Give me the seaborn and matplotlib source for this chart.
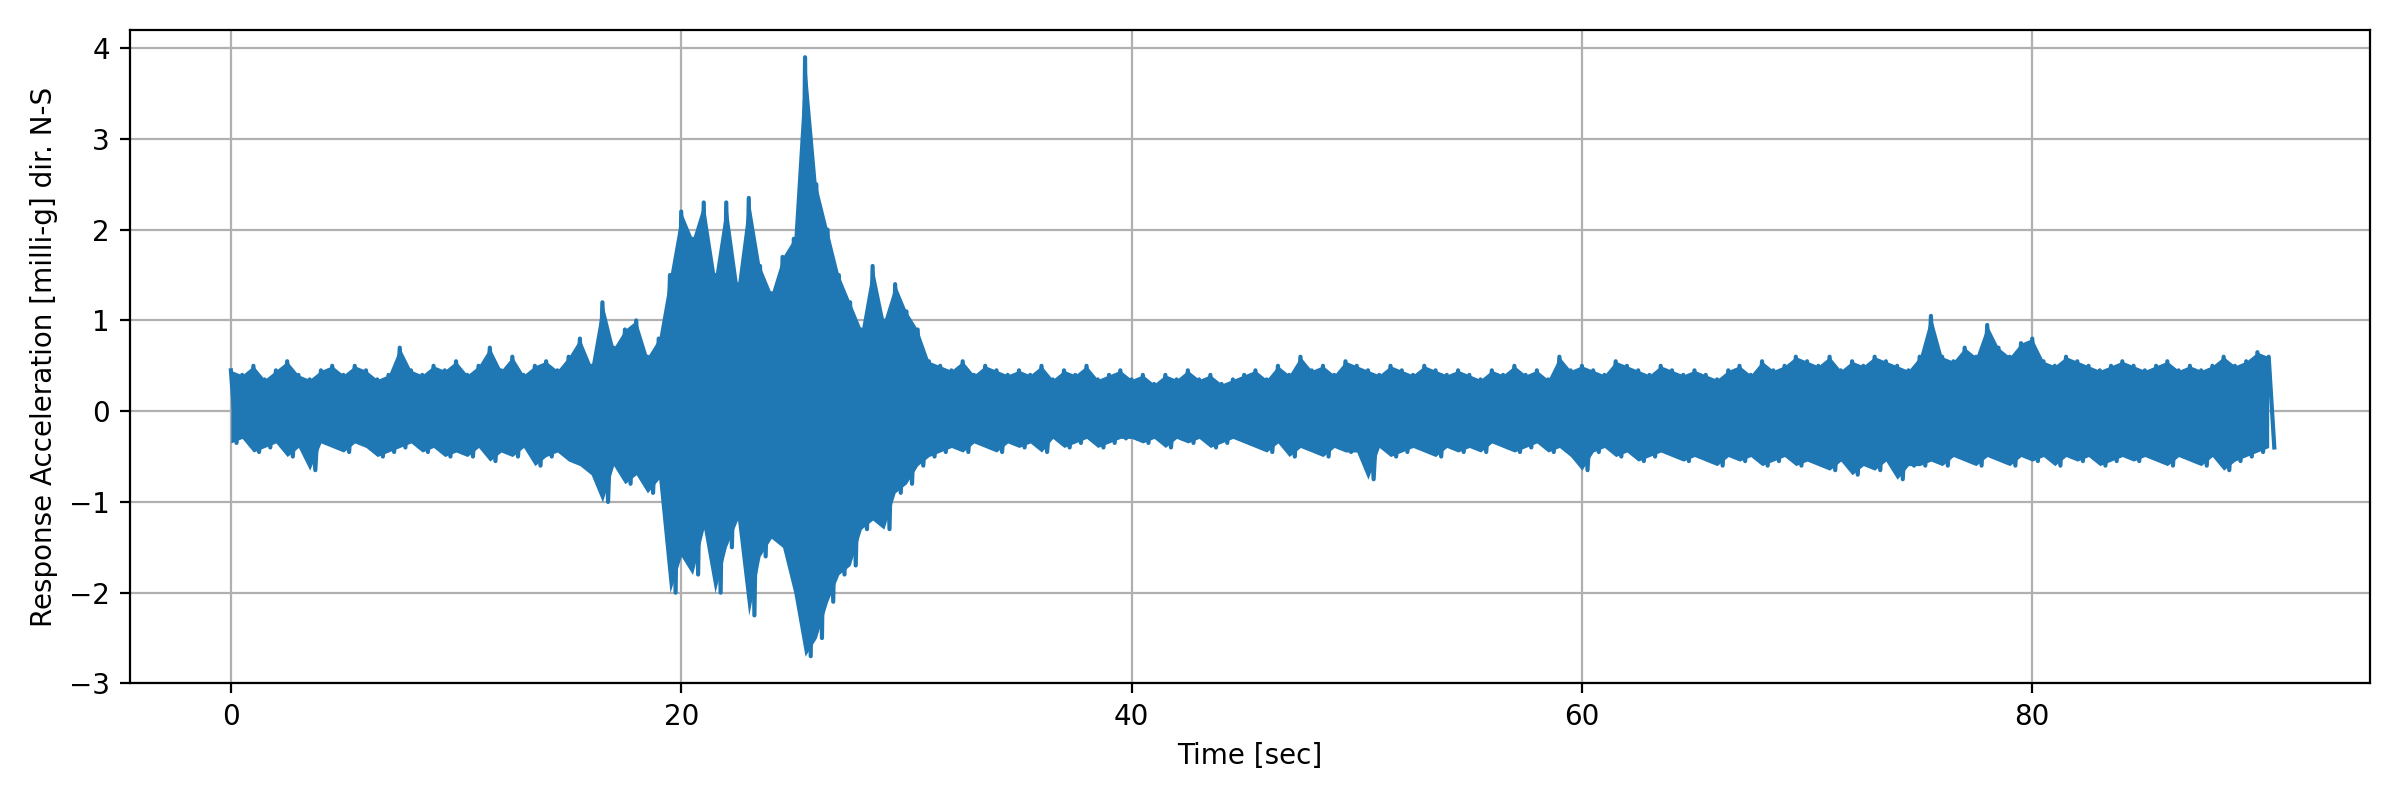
import numpy as np
import pandas as pd
import matplotlib
matplotlib.use("Agg")
import matplotlib.pyplot as plt
import seaborn as sns

highs = [0.45,0.4,0.5,0.35,0.45,0.55,0.4,0.35,0.45,0.5,
         0.4,0.5,0.45,0.35,0.4,0.7,0.45,0.4,0.5,0.45,
         0.55,0.4,0.5,0.7,0.45,0.6,0.4,0.5,0.55,0.45,
         0.6,0.8,0.5,1.2,0.7,0.9,1.0,0.6,0.8,1.5,
         2.2,1.9,2.3,1.5,2.3,1.4,2.35,1.6,1.3,1.7,
         1.9,3.9,2.5,2.0,1.5,1.2,0.9,1.6,1.0,1.4,
         1.1,0.9,0.55,0.5,0.45,0.55,0.4,0.5,0.45,0.4,
         0.45,0.4,0.5,0.35,0.45,0.4,0.5,0.35,0.4,0.45,
         0.35,0.4,0.3,0.4,0.35,0.45,0.35,0.4,0.3,0.35,
         0.4,0.45,0.35,0.5,0.4,0.6,0.45,0.5,0.4,0.55,
         0.5,0.45,0.4,0.5,0.45,0.4,0.5,0.45,0.4,0.45,
         0.4,0.35,0.45,0.4,0.5,0.4,0.45,0.35,0.6,0.45,
         0.5,0.45,0.4,0.55,0.5,0.45,0.4,0.5,0.45,0.4,
         0.45,0.4,0.35,0.45,0.5,0.4,0.55,0.45,0.5,0.6,
         0.55,0.5,0.6,0.45,0.55,0.5,0.6,0.55,0.5,0.45,
         0.6,1.05,0.6,0.55,0.7,0.6,0.95,0.7,0.6,0.75,
         0.8,0.55,0.5,0.6,0.55,0.5,0.45,0.5,0.55,0.5,
         0.45,0.5,0.55,0.45,0.5,0.45,0.5,0.6,0.5,0.55,
         0.65,0.6]
lows = [-0.35,-0.3,-0.45,-0.4,-0.35,-0.5,-0.4,-0.65,-0.35,-0.4,
        -0.45,-0.35,-0.4,-0.5,-0.45,-0.4,-0.35,-0.45,-0.4,-0.5,
        -0.45,-0.5,-0.4,-0.55,-0.45,-0.5,-0.4,-0.6,-0.5,-0.45,
        -0.55,-0.6,-0.7,-1.0,-0.6,-0.8,-0.7,-0.9,-0.75,-2.0,
        -1.6,-1.8,-1.3,-2.0,-1.5,-1.2,-2.25,-1.6,-1.4,-1.5,
        -2.0,-2.7,-2.5,-2.1,-1.8,-1.7,-1.3,-1.2,-1.3,-0.9,
        -0.8,-0.6,-0.5,-0.45,-0.4,-0.45,-0.35,-0.4,-0.45,-0.35,
        -0.4,-0.35,-0.45,-0.3,-0.4,-0.35,-0.3,-0.4,-0.35,-0.3,
        -0.3,-0.35,-0.3,-0.4,-0.3,-0.35,-0.3,-0.4,-0.35,-0.3,
        -0.35,-0.4,-0.45,-0.35,-0.5,-0.4,-0.45,-0.5,-0.4,-0.45,
        -0.45,-0.75,-0.4,-0.5,-0.45,-0.4,-0.45,-0.5,-0.4,-0.45,
        -0.4,-0.45,-0.35,-0.4,-0.45,-0.4,-0.35,-0.45,-0.4,-0.5,
        -0.65,-0.45,-0.4,-0.5,-0.45,-0.55,-0.5,-0.45,-0.5,-0.55,
        -0.5,-0.55,-0.6,-0.5,-0.55,-0.5,-0.6,-0.55,-0.5,-0.6,
        -0.55,-0.6,-0.65,-0.55,-0.7,-0.6,-0.65,-0.55,-0.75,-0.6,
        -0.6,-0.55,-0.6,-0.5,-0.55,-0.6,-0.5,-0.55,-0.6,-0.5,
        -0.55,-0.5,-0.6,-0.5,-0.55,-0.5,-0.6,-0.55,-0.5,-0.55,
        -0.5,-0.55,-0.6,-0.5,-0.55,-0.6,-0.5,-0.65,-0.55,-0.5,
        -0.45,-0.4]

t_hi = np.arange(len(highs)) * 0.5
t_lo = t_hi + 0.25
t = np.empty(2 * len(highs)); v = np.empty(2 * len(highs))
t[0::2] = t_hi; t[1::2] = t_lo
v[0::2] = highs; v[1::2] = lows
df = pd.DataFrame({"time": t, "acc": v})

blue = "#1f77b4"
fig, ax = plt.subplots(figsize=(12, 4), dpi=200)
ax.fill_between(t_hi, lows, highs, color=blue, lw=0, zorder=2)
sns.lineplot(data=df, x="time", y="acc", ax=ax, color=blue, lw=1.5, sort=False, zorder=3)
ax.grid(True)
ax.set_axisbelow(True)
ax.set_xlim(-4.5, 95)
ax.set_ylim(-3, 4.2)
ax.set_xlabel("Time [sec]")
ax.set_ylabel("Response Acceleration [milli-g] dir. N-S")
fig.tight_layout()
fig.savefig("out.png")
